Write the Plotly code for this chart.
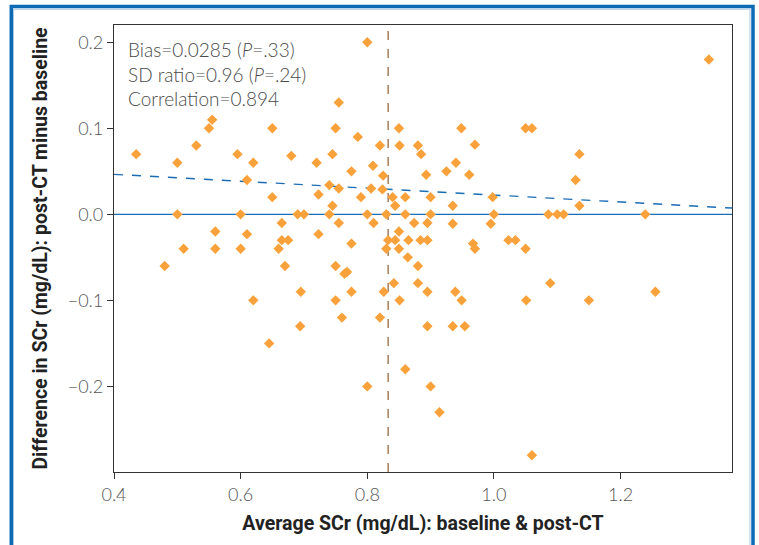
import plotly.graph_objects as go

# Average SCr (x) and difference post-CT minus baseline (y)
avg_scr = [
    0.435, 0.50, 0.53, 0.55, 0.555, 0.595, 0.62, 0.61, 0.65, 0.68,
    0.65, 0.72, 0.745, 0.75, 0.755, 0.785, 0.80, 0.82, 0.775, 0.74,
    0.755, 0.806, 0.809, 0.723, 0.79, 0.745, 0.50, 0.60, 0.69, 0.70,
    0.74, 0.80, 0.81, 0.755, 0.665, 0.56, 0.61, 0.665, 0.675, 0.723,
    0.775, 0.51, 0.56, 0.60, 0.66, 0.48, 0.67, 0.75, 0.768, 0.764,
    0.62, 0.695, 0.75, 0.775, 0.76, 0.694, 0.645, 0.80, 0.82, 0.825,
    0.824, 0.826,
    0.85, 0.851, 0.88, 0.885, 0.9485, 0.97, 1.05, 1.06, 1.135, 1.129,
    1.135, 1.239, 1.3395, 0.94, 0.925, 0.893, 0.961, 0.84, 0.86, 0.90,
    0.998, 0.844, 0.935, 0.83, 0.86, 0.90, 1.0, 1.086, 1.10, 1.11,
    0.874, 0.895, 0.935, 0.995, 0.85, 0.833, 0.844, 0.865, 0.884, 0.895,
    1.023, 1.034, 0.83, 0.85, 0.967, 0.97, 1.05, 0.864, 0.88, 0.842,
    0.88, 0.895, 0.939, 0.851, 0.949, 1.051, 1.089, 1.15, 1.255, 0.895,
    0.935, 0.954, 0.86, 0.90, 0.914, 1.06,
]
diff_scr = [
    0.07, 0.06, 0.08, 0.10, 0.11, 0.07, 0.06, 0.04, 0.10, 0.068,
    0.02, 0.06, 0.07, 0.10, 0.13, 0.09, 0.20, 0.08, 0.05, 0.034,
    0.03, 0.03, 0.0565, 0.023, 0.02, 0.01, 0.0, 0.0, 0.0, 0.0,
    0.0, 0.0, -0.01, -0.01, -0.01, -0.02, -0.023, -0.03, -0.03, -0.023,
    -0.034, -0.04, -0.04, -0.04, -0.04, -0.06, -0.06, -0.06, -0.067, -0.069,
    -0.10, -0.09, -0.10, -0.09, -0.12, -0.13, -0.15, -0.20, -0.12, 0.045,
    0.029, -0.09,
    0.10, 0.08, 0.08, 0.07, 0.10, 0.081, 0.10, 0.10, 0.07, 0.04,
    0.01, 0.0, 0.18, 0.06, 0.05, 0.046, 0.046, 0.02, 0.02, 0.02,
    0.02, 0.01, 0.01, 0.0, 0.0, 0.0, 0.0, 0.0, 0.0, 0.0,
    -0.01, -0.01, -0.011, -0.011, -0.02, -0.03, -0.03, -0.03, -0.03, -0.03,
    -0.03, -0.03, -0.04, -0.04, -0.034, -0.04, -0.04, -0.05, -0.06, -0.08,
    -0.08, -0.09, -0.09, -0.10, -0.10, -0.10, -0.08, -0.10, -0.09, -0.13,
    -0.13, -0.13, -0.18, -0.20, -0.23, -0.28,
]

mean_avg = 0.833            # vertical dashed line
reg_x = [0.4, 1.376]        # regression line ends
reg_y = [0.0465, 0.0073]

x_ticks = [0.4, 0.6, 0.8, 1.0, 1.2]
x_tick_labels = ["0.4", "0.6", "0.8", "1.0", "1.2"]
y_ticks = [0.2, 0.1, 0.0, -0.1, -0.2]
y_tick_labels = ["0.2", "0.1", "0.0", "\u22120.1", "\u22120.2"]

stats_lines = [
    "Bias=0.0285 (<i>P</i>=.33)",
    "SD ratio=0.96 (<i>P</i>=.24)",
    "Correlation=0.894",
]

X_RANGE = [0.4, 1.376]
Y_RANGE = [-0.2995, 0.2201]

fig = go.Figure()

fig.add_trace(go.Scatter(
    x=X_RANGE, y=[0, 0], mode="lines",
    line=dict(color="#1b6db5", width=1.4), hoverinfo="skip", showlegend=False,
))
fig.add_trace(go.Scatter(
    x=reg_x, y=reg_y, mode="lines",
    line=dict(color="#1b6db5", width=1.4, dash="dash"), hoverinfo="skip", showlegend=False,
))
fig.add_trace(go.Scatter(
    x=[mean_avg, mean_avg], y=Y_RANGE, mode="lines",
    line=dict(color="#a57d5c", width=1.5, dash="dash"), hoverinfo="skip", showlegend=False,
))
fig.add_trace(go.Scatter(
    x=avg_scr, y=diff_scr, mode="markers",
    marker=dict(symbol="diamond", size=8, color="#f9a23c", line=dict(width=0)),
    showlegend=False,
))

fig.add_annotation(
    x=0, y=1, xref="paper", yref="paper", xanchor="left", yanchor="top",
    xshift=12, yshift=-11, align="left", showarrow=False,
    text="<br>".join(stats_lines),
    font=dict(family="Lato", size=19, color="#4a4a4a", weight=300),
)

# outer blue frame
fig.add_shape(type="rect", xref="paper", yref="paper",
              x0=-0.1662, x1=1.0340, y0=-0.25, y1=1.0414,
              line=dict(color="#0d6ab5", width=3.5), layer="above")
fig.add_shape(type="rect", xref="paper", yref="paper",
              x0=-0.1626, x1=1.0291, y0=-0.25, y1=1.0353,
              line=dict(color="#a9cbe8", width=1), layer="above")

axis_font = dict(family="Roboto", size=19.5, color="#222222")
tick_font = dict(family="Lato", size=18, color="#555555", weight=300)

fig.update_xaxes(
    range=X_RANGE, tickvals=x_ticks, ticktext=x_tick_labels,
    showgrid=False, zeroline=False, showline=True, linecolor="#333333", linewidth=1.3,
    mirror=True, ticks="outside", ticklen=6, tickcolor="#333333",
    tickfont=tick_font,
    title=dict(text="<b>Average SCr (mg/dL): baseline &amp; post-CT</b>", font=axis_font, standoff=12),
)
fig.update_yaxes(
    range=Y_RANGE, tickvals=y_ticks, ticktext=y_tick_labels,
    showgrid=False, zeroline=False, showline=True, linecolor="#333333", linewidth=1.3,
    mirror=True, ticks="outside", ticklen=6, tickcolor="#333333",
    tickfont=tick_font,
    title=dict(text="<b>Difference in SCr (mg/dL): post-CT minus baseline</b>", font=axis_font, standoff=14),
)

fig.update_layout(
    width=759, height=545,
    margin=dict(l=114, r=27, t=25, b=73),
    paper_bgcolor="white", plot_bgcolor="white",
)

fig.write_html(
    "out.html",
    config=dict(displayModeBar=False),
    post_script="document.body.style.margin='0';document.body.style.overflow='hidden';",
)
